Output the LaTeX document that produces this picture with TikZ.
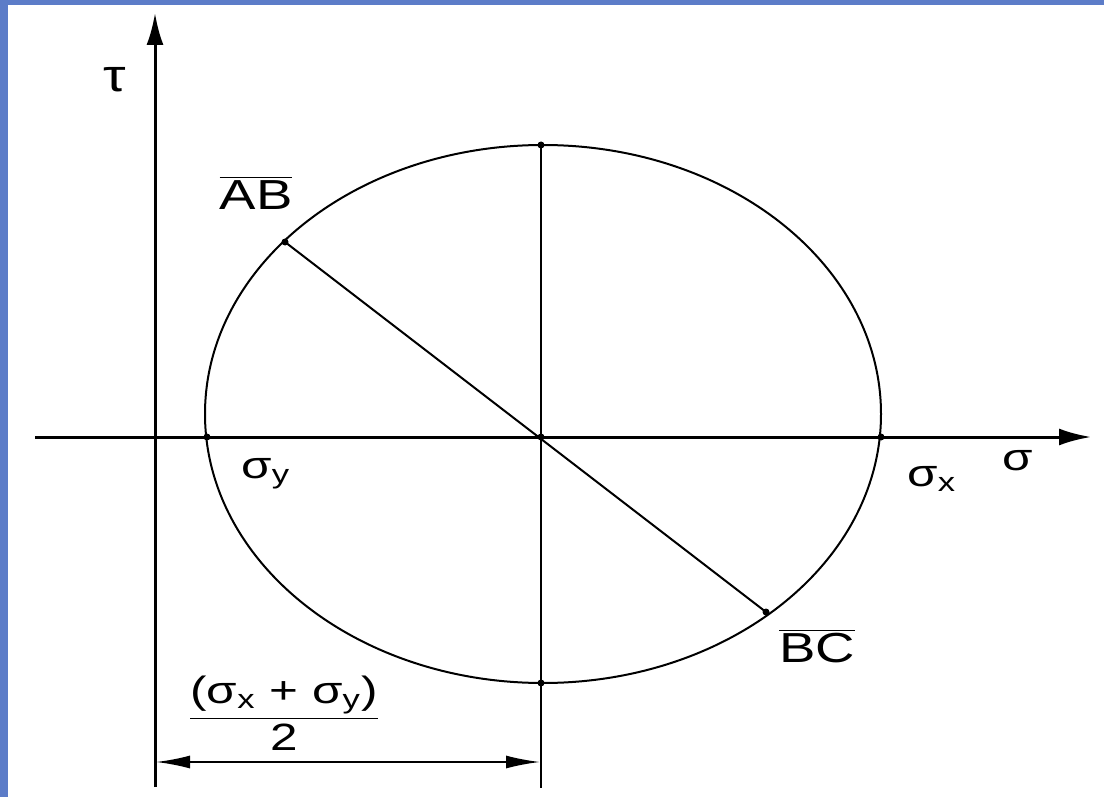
\documentclass[tikz,border=0pt]{standalone}
\usepackage{fontspec}
\usepackage{graphicx}
\setmainfont{Liberation Sans}
\usetikzlibrary{arrows.meta}
\definecolor{frameblue}{RGB}{92,124,200}
\newcommand{\wide}[1]{\scalebox{1.3}[1]{#1}}
\tikzset{
  axis/.style={line width=1.5pt,-{Latex[length=16pt,width=8.5pt]}},
  thin line/.style={line width=1pt},
  dimline/.style={line width=1pt,{Latex[length=17pt,width=6.5pt]}-{Latex[length=17pt,width=6.5pt]}},
  pt/.style={circle,fill=black,inner sep=0pt,minimum size=3.5pt},
  lbl/.style={inner sep=0pt,font=\fontsize{19}{21}\selectfont},
  biglbl/.style={inner sep=0pt,font=\fontsize{21}{23}\selectfont}
}
\begin{document}
\begin{tikzpicture}[x=0.5pt,y=-0.5pt]
\useasboundingbox (0,0) rectangle (1104,797);
\fill[white] (0,0) rectangle (1104,797);
\fill[frameblue] (0,0) rectangle (8,797);
\fill[frameblue] (0,0) rectangle (1104,5);
% points
\coordinate (tb) at (155,787);
\coordinate (tt) at (155,13);
\coordinate (sl) at (35,437);
\coordinate (sr) at (1091,437);
\coordinate (C) at (543,414);
\node[pt] (L) at (207,437) {};
\node[pt] (R) at (881,437) {};
\node[pt] (T) at (541,145) {};
\node[pt] (B) at (541,683) {};
\node[pt] (M) at (541,437) {};
\node[pt] (A) at (285,242) {};
\node[pt] (D) at (766,612) {};
\coordinate (vb) at (541,788);
\coordinate (dl) at (156,762);
\coordinate (dr) at (540,762);
% axes
\draw[axis] (tb) -- (tt);
\draw[axis] (sl) -- (sr);
% ellipse
\draw[thin line] (C) ellipse [x radius=169pt, y radius=134.5pt];
% lines
\draw[thin line] (T.center) -- (vb);
\draw[thin line] (A.center) -- (D.center);
\draw[dimline] (dl) -- (dr);
% labels
\node[lbl] (tau) at (115,80) {\scalebox{1.5}[1.2]{τ}};
\node[biglbl] (ab) at (256,193) {\wide{$\overline{\mbox{AB}}$}};
\node[biglbl] (bc) at (817,646) {\wide{$\overline{\mbox{BC}}$}};
\node[lbl] (sy) at (266,474) {\wide{σ\textsubscript{y}}};
\node[lbl] (sx) at (932,479) {\wide{σ\textsubscript{x}}};
\node[lbl] (s) at (1018,461) {\wide{σ}};
\node[lbl] (frac) at (284,713) {\wide{$\displaystyle\frac{\mbox{(σ\textsubscript{x} + σ\textsubscript{y})}}{\mbox{2}}$}};
\end{tikzpicture}
\end{document}
